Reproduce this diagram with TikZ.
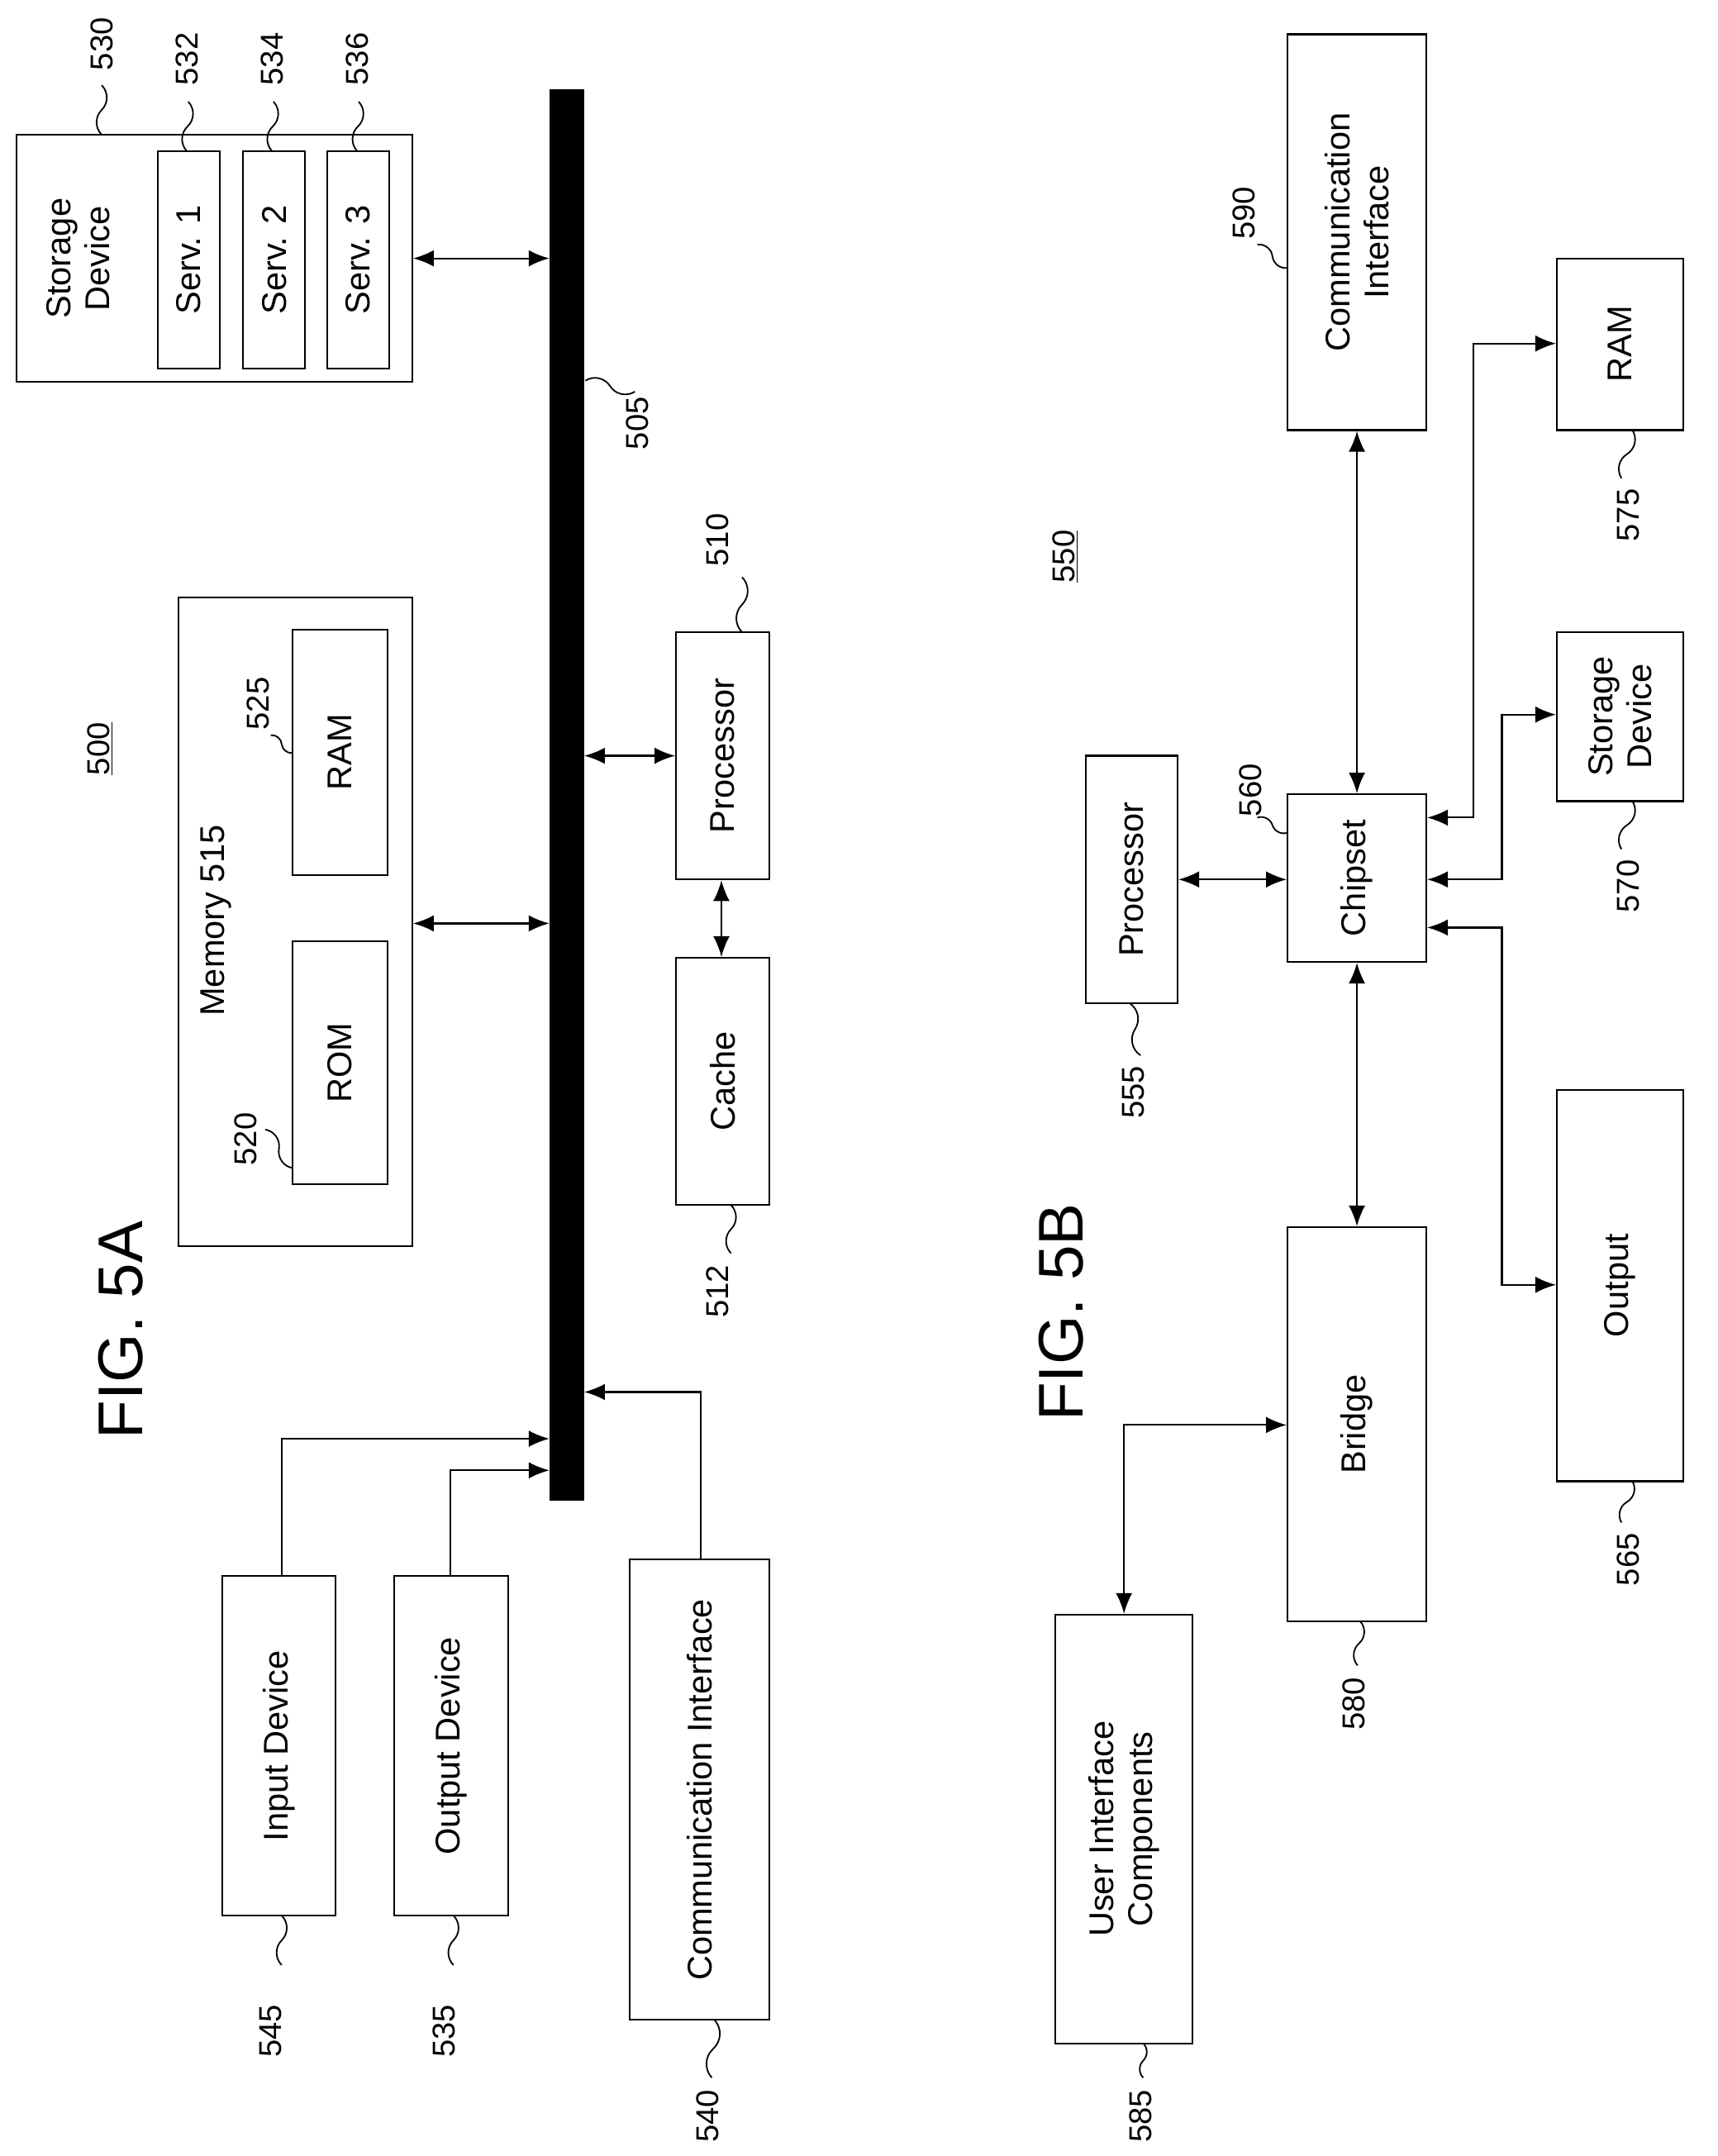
\documentclass[tikz,border=0pt]{standalone}
\usepackage{fontspec}
\setmainfont{Liberation Sans}
\usetikzlibrary{arrows.meta,calc}
\begin{document}
\begin{tikzpicture}[x=1pt,y=-1pt,
  bx/.style={draw,line width=1.3pt,inner sep=0pt},
  txt/.style={rotate=90,align=center,font=\fontsize{25}{28}\selectfont,inner sep=0pt},
  num/.style={rotate=90,font=\fontsize{23}{26}\selectfont,inner sep=1pt},
  fig/.style={rotate=90,font=\fontsize{46}{50}\selectfont,inner sep=0pt},
  ar/.style={line width=1.3pt,-{Latex[length=15pt,width=12pt]}},
  dar/.style={line width=1.3pt,{Latex[length=15pt,width=12pt]}-{Latex[length=15pt,width=12pt]}},
  sq/.style={line width=1.1pt}]
\useasboundingbox (0,0) rectangle (1250,1569);
\newcommand\bx[6]{%
  \pgfmathsetmacro\bw{#4-#2}\pgfmathsetmacro\bh{#5-#3}%
  \node[bx,minimum width=\bw pt,minimum height=\bh pt] (#1) at ({(#2+#4)/2},{(#3+#5)/2}) {};
  \node[txt] (#1t) at (#1) {#6};}
\newcommand\lbl[5]{%
  \node[num] (#1) at (#2) {#3};
  \draw[sq] (#4) to[bend left=45] ($(#4)!.5!(#5)$) to[bend right=45] (#5);}
% ---------- FIG 5A ----------
\node[fill=black,minimum width=25pt,minimum height=1027pt,inner sep=0pt] (bus) at (412.5,578.5) {};
\bx{stor}{12}{98}{300}{278}{}
\node[txt] (stort) at (57,188) {Storage\\Device};
\bx{s1}{115}{110}{160}{268}{Serv. 1}
\bx{s2}{177}{110}{222}{268}{Serv. 2}
\bx{s3}{238}{110}{283}{268}{Serv. 3}
\lbl{l530}{74,32}{530}{74,62}{74,98}
\lbl{l532}{136,43}{532}{137,74}{136,110}
\lbl{l534}{198,43}{534}{199,74}{198,110}
\lbl{l536}{260,43}{536}{261,74}{260,110}
\draw[dar] (stor.east |- 0,188) -- (bus.west |- 0,188);
\lbl{l505}{464,308}{505}{462,285}{426,277}
\bx{mem}{130}{435}{300}{907}{}
\node[txt] (memt) at (157,670) {Memory 515};
\bx{rom}{213}{685}{282}{862}{ROM}
\bx{ram}{213}{458}{282}{637}{RAM}
\lbl{l520}{179,829}{520}{193,822}{213,850}
\lbl{l525}{188,512}{525}{197,535}{213,548}
\draw[dar] (mem.east |- 0,672) -- (bus.west |- 0,672);
\node[num,inner sep=0pt] (l500) at (73,545) {\underline{500}};
\node[fig] (f5a) at (88,968) {FIG. 5A};
\bx{proc}{492}{460}{560}{640}{Processor}
\bx{cache}{492}{697}{560}{877}{Cache}
\draw[dar] (bus.east |- 0,550) -- (proc.west |- 0,550);
\draw[dar] (proc.south -| 525,0) -- (cache.north -| 525,0);
\lbl{l510}{522,393}{510}{540,420}{540,460}
\lbl{l512}{522,940}{512}{532,912}{532,877}
\bx{inp}{162}{1147}{244}{1394}{Input Device}
\bx{outd}{287}{1147}{370}{1394}{Output Device}
\bx{comm}{458}{1135}{560}{1470}{Communication Interface}
\draw[ar] (inp.north -| 205,0) |- (bus.west |- 0,1047);
\draw[ar] (outd.north -| 328,0) |- (bus.west |- 0,1070);
\draw[ar] (comm.north -| 510,0) |- (bus.east |- 0,1013);
\lbl{l545}{197,1478}{545}{205,1430}{205,1394}
\lbl{l535}{323,1478}{535}{330,1430}{330,1394}
\lbl{l540}{515,1540}{540}{518,1512}{520,1470}
% ---------- FIG 5B ----------
\bx{ci}{937}{25}{1038}{313}{Communication\\Interface}
\lbl{l590}{905,155}{590}{915,178}{937,195}
\bx{ramb}{1133}{188}{1225}{313}{RAM}
\lbl{l575}{1185,375}{575}{1180,348}{1188,313}
\bx{sd}{1133}{460}{1225}{583}{Storage\\Device}
\lbl{l570}{1185,645}{570}{1180,618}{1188,583}
\bx{chip}{937}{578}{1038}{700}{Chipset}
\lbl{l560}{910,575}{560}{915,595}{937,606}
\bx{pr}{790}{550}{857}{730}{Processor}
\lbl{l555}{825,795}{555}{830,768}{822,730}
\bx{outb}{1133}{793}{1225}{1078}{Output}
\lbl{l565}{1185,1135}{565}{1180,1108}{1188,1078}
\bx{br}{937}{893}{1038}{1180}{Bridge}
\lbl{l580}{985,1240}{580}{988,1212}{990,1180}
\bx{ui}{768}{1175}{868}{1487}{User Interface\\Components}
\lbl{l585}{830,1540}{585}{832,1512}{832,1487}
\node[num,inner sep=0pt] (l550) at (775,405) {\underline{550}};
\node[fig] (f5b) at (772,955) {FIG. 5B};
\draw[dar] (ci.south) -- (chip.north);
\draw[dar] (pr.east |- 0,640) -- (chip.west |- 0,640);
\draw[dar] (chip.south) -- (br.north);
\draw[dar] (chip.east |- 0,595) -| (1072,250) -- (ramb.west |- 0,250);
\draw[dar] (chip.east |- 0,640) -| (1093,520) -- (sd.west |- 0,520);
\draw[dar] (chip.east |- 0,675) -| (1093,935) -- (outb.west |- 0,935);
\draw[dar] (br.west |- 0,1037) -| (ui.north -| 818,0);
\end{tikzpicture}
\end{document}
